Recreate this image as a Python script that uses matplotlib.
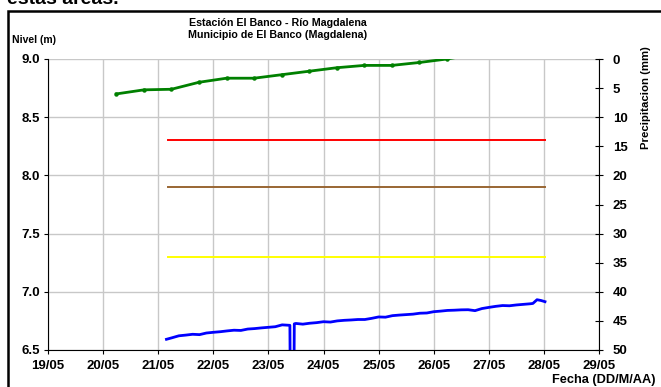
import matplotlib.pyplot as plt
from matplotlib.patches import Rectangle

plt.rcParams['font.family'] = ['Liberation Sans', 'DejaVu Sans']
plt.rcParams['font.weight'] = 'bold'

# x = days since 19/05
day_labels = ['19/05', '20/05', '21/05', '22/05', '23/05', '24/05',
              '25/05', '26/05', '27/05', '28/05', '29/05']

# green series (every 12 h)
green_x = [1.24, 1.74, 2.24, 2.74, 3.24, 3.74, 4.24, 4.74, 5.24, 5.74,
           6.24, 6.74, 7.24, 7.74]
green_y = [8.70, 8.735, 8.74, 8.80, 8.835, 8.835, 8.865, 8.895, 8.925,
           8.945, 8.945, 8.97, 9.0, 9.04]

# reference levels
ref_start, ref_end = 2.17, 9.02
red_level = 8.3
brown_level = 7.9
yellow_level = 7.3

# blue series
blue_x = [2.15, 2.25, 2.375, 2.5, 2.625, 2.75, 2.875, 3.0, 3.125, 3.25,
          3.375, 3.5, 3.625, 3.75, 3.875, 4.0, 4.125, 4.25, 4.39, 4.40,
          4.46, 4.47, 4.5, 4.625, 4.75, 4.875, 5.0, 5.125, 5.25, 5.375,
          5.5, 5.625, 5.75, 5.875, 6.0, 6.125, 6.25, 6.375, 6.5, 6.625,
          6.75, 6.875, 7.0, 7.125, 7.25, 7.375, 7.5, 7.625, 7.75, 7.875,
          8.0, 8.125, 8.25, 8.375, 8.5, 8.625, 8.75, 8.8, 8.875, 8.95, 9.02]
blue_y = [6.592, 6.605, 6.622, 6.628, 6.635, 6.632, 6.646, 6.652, 6.657, 6.664,
          6.670, 6.668, 6.680, 6.684, 6.690, 6.695, 6.700, 6.716, 6.712, 6.0,
          6.0, 6.725, 6.728, 6.722, 6.730, 6.735, 6.743, 6.740, 6.750, 6.755,
          6.758, 6.762, 6.762, 6.772, 6.784, 6.782, 6.795, 6.800, 6.804, 6.808,
          6.816, 6.818, 6.829, 6.834, 6.840, 6.842, 6.845, 6.846, 6.838, 6.856,
          6.866, 6.875, 6.882, 6.880, 6.887, 6.892, 6.897, 6.900, 6.932, 6.925, 6.915]

fig = plt.figure(figsize=(6.61, 3.87), dpi=100)
ax = fig.add_axes([48/661, 1-350/387, (599-48)/661, (350-59)/387])

ax.plot(green_x, green_y, color='#008000', lw=2.0, marker='o', ms=2.2)
ax.plot([ref_start, ref_end], [red_level]*2, color='#ff0000', lw=1.4)
ax.plot([ref_start, ref_end], [brown_level]*2, color='#996633', lw=1.4)
ax.plot([ref_start, ref_end], [yellow_level]*2, color='#ffff00', lw=1.4)
ax.plot(blue_x, blue_y, color='#0000ff', lw=2.0)

ax.set_xlim(0, 10)
ax.set_ylim(6.5, 9.0)
ax.set_xticks(range(len(day_labels)))
ax.set_xticklabels(day_labels)
ax.set_yticks([6.5, 7.0, 7.5, 8.0, 8.5, 9.0])
ax.set_yticklabels(['6.5', '7.0', '7.5', '8.0', '8.5', '9.0'])
ax.grid(True, color='#c8c8c8', lw=1)
ax.set_axisbelow(True)
ax.tick_params(labelsize=9.5, length=3, width=0.8, pad=3)
ax.tick_params(axis='x', pad=4)
ax.spines['top'].set_visible(False)
ax.spines['right'].set_visible(False)

ax2 = ax.twinx()
ax2.set_ylim(50, 0)
ax2.set_yticks(range(0, 51, 5))
ax2.tick_params(labelsize=9.5, direction='inout', length=6, width=0.8, pad=7)
ax2.spines['top'].set_visible(False)
ax2.spines['left'].set_visible(False)
ax2.spines['bottom'].set_visible(False)

fig.text(278/661, 1-23/387, 'Estación El Banco - Río Magdalena', ha='center',
         va='center', fontsize=7.7, fontweight='bold')
fig.text(278/661, 1-35/387, 'Municipio de El Banco (Magdalena)', ha='center',
         va='center', fontsize=7.7, fontweight='bold')
fig.text(12/661, 1-40/387, 'Nivel (m)', ha='left', va='center', fontsize=7.5,
         fontweight='bold')
fig.text(646/661, 1-98/387, 'Precipitacion (mm)', rotation=90, ha='center',
         va='center', fontsize=8.2, fontweight='bold')
fig.text(656/661, 1-380/387, 'Fecha (DD/M/AA)', ha='right', va='center',
         fontsize=9.2, fontweight='bold')
fig.text(7/661, 1-4/387, 'estas áreas.', ha='left', va='baseline',
         fontsize=14, fontweight='bold')

fig.patches.append(Rectangle((7.5/661, -0.1), 1.2, 1.1 - 11/387,
                             transform=fig.transFigure, fill=False,
                             edgecolor='black', lw=1.8))

fig.savefig('out.png', dpi=100)
